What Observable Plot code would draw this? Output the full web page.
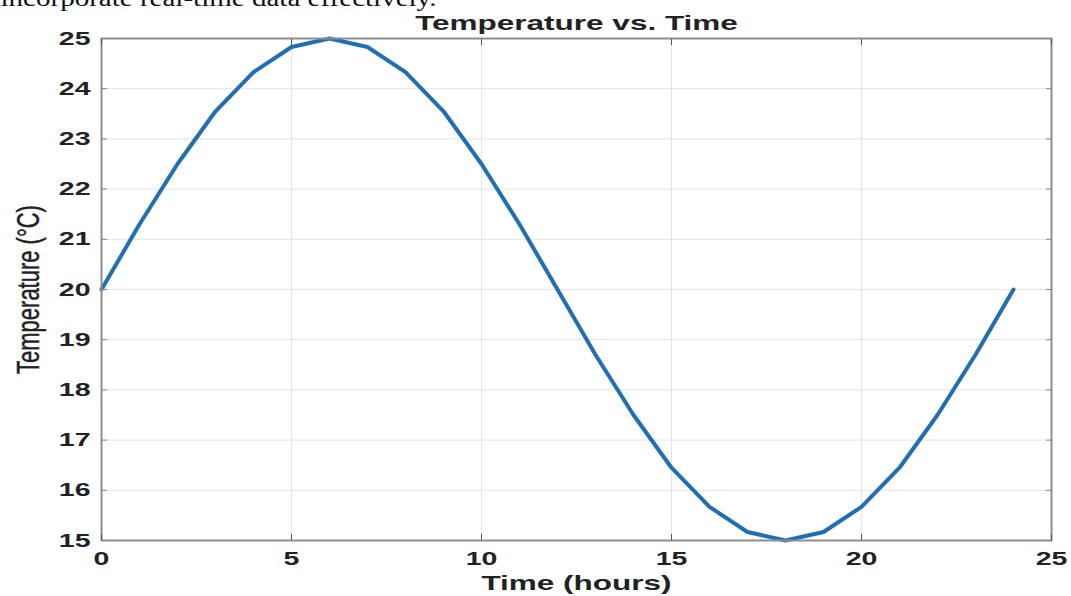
<!DOCTYPE html>
<html><head><meta charset="utf-8">
<script src="https://cdn.jsdelivr.net/npm/d3@7"></script>
<script src="https://cdn.jsdelivr.net/npm/@observablehq/plot@0.6"></script>
<style>html,body{margin:0;padding:0;background:#fff;overflow:hidden} svg{display:block}</style>
</head><body><div id="chart"></div>
<script>
const hours = [0,1,2,3,4,5,6,7,8,9,10,11,12,13,14,15,16,17,18,19,20,21,22,23,24];
const temperature = [20.0,21.3,22.5,23.55,24.33,24.83,25.0,24.83,24.33,23.55,22.5,21.3,20.0,18.7,17.5,16.45,15.67,15.17,15.0,15.17,15.67,16.45,17.5,18.7,20.0];
const xTicks = [0,5,10,15,20,25];
const yTicks = [15,16,17,18,19,20,21,22,23,24,25];
const titleText = "Temperature vs. Time";
const xLabel = "Time (hours)";
const yLabel = "Temperature (°C)";
const noteText = "incorporate real-time data effectively.";

const data = hours.map((h, i) => ({h, t: temperature[i]}));
const gridColor = "#e4e4e4", axisColor = "#8e8e8e", lineColor = "#1f6fb7", textColor = "#222";
const sans = "'Liberation Sans', Arial, sans-serif";

const plot = Plot.plot({
  width: 1071, height: 596,
  marginLeft: 101, marginRight: 20, marginTop: 38, marginBottom: 56,
  style: {fontFamily: sans, background: "#fff", overflow: "visible"},
  x: {domain: [0, 25]},
  y: {domain: [15, 25]},
  marks: [
    Plot.gridX(xTicks, {stroke: gridColor, strokeOpacity: 1, strokeWidth: 1}),
    Plot.gridY(yTicks, {stroke: gridColor, strokeOpacity: 1, strokeWidth: 1}),
    Plot.line(data, {x: "h", y: "t", stroke: lineColor, strokeWidth: 4, strokeLinejoin: "round"}),
    Plot.frame({stroke: axisColor, strokeWidth: 2}),
    Plot.axisX(xTicks, {anchor: "bottom", text: null, tickSize: 6, dy: -6, stroke: "#555", label: null}),
    Plot.axisX(xTicks, {anchor: "top", text: null, tickSize: 6, dy: 6, stroke: "#555", label: null}),
    Plot.axisY(yTicks, {anchor: "left", text: null, tickSize: 6, dx: 6, stroke: "#888", label: null}),
    Plot.axisY(yTicks, {anchor: "right", text: null, tickSize: 6, dx: -6, stroke: "#888", label: null}),
    Plot.axisX(xTicks, {anchor: "bottom", tickSize: 0, tickPadding: 11, tickFormat: "d", fontSize: 19, fontWeight: "bold", fill: textColor, label: null, className: "stretch"}),
    Plot.axisY(yTicks, {anchor: "left", tickSize: 0, tickPadding: 11, tickFormat: "d", fontSize: 19, fontWeight: "bold", fill: textColor, label: null, className: "stretch"}),
    Plot.text([titleText], {frameAnchor: "top", lineAnchor: "bottom", dy: -9, fontSize: 21, fontWeight: "bold", fill: textColor, className: "stretch"}),
    Plot.text([xLabel], {frameAnchor: "bottom", lineAnchor: "bottom", dy: 49, fontSize: 21, fontWeight: "bold", fill: textColor, className: "stretch"}),
    Plot.text([yLabel], {frameAnchor: "left", textAnchor: "middle", lineAnchor: "middle", rotate: -90, dx: -73, fontSize: 22, fill: textColor, stroke: textColor, strokeWidth: 0.3, className: "ylab"}),
    Plot.text([noteText], {frameAnchor: "top-left", textAnchor: "start", lineAnchor: "bottom", dx: -101, dy: -33, fontSize: 24, fontFamily: "'Liberation Serif', 'Times New Roman', serif", fill: "#111", className: "note"})
  ]
});
document.getElementById("chart").append(plot);

plot.querySelectorAll(".stretch text").forEach(t => {
  const len = t.getComputedTextLength();
  t.setAttribute("textLength", len * 1.5);
  t.setAttribute("lengthAdjust", "spacingAndGlyphs");
});
plot.querySelectorAll(".ylab text").forEach(t => {
  const tr = t.getAttribute("transform") || "";
  t.setAttribute("transform", tr + " scale(1,1.45)");
});
plot.querySelectorAll(".note text").forEach(t => {
  t.setAttribute("textLength", 436);
  t.setAttribute("lengthAdjust", "spacingAndGlyphs");
});
</script>
</body></html>
